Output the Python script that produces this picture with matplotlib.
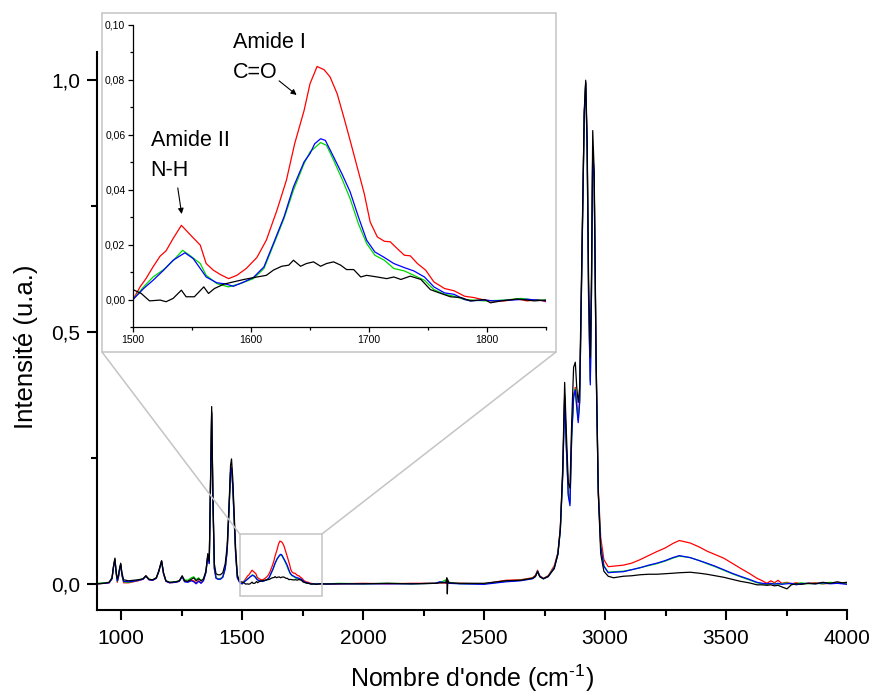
import numpy as np
import matplotlib
matplotlib.use("Agg")
import matplotlib.pyplot as plt
from matplotlib.patches import Rectangle, ConnectionPatch
from matplotlib.ticker import MultipleLocator, FuncFormatter

plt.rcParams["font.family"] = ["Liberation Sans", "DejaVu Sans"]
plt.rcParams["mathtext.fontset"] = "custom"
plt.rcParams["mathtext.rm"] = "Liberation Sans"

# ---- spectra ----
# 900-1490 cm-1 (shared grid)
wn_low = [900, 930, 950, 962, 968, 974, 979, 984, 988, 993, 998, 1003, 1010, 1030,
          1050, 1070, 1090, 1102, 1115, 1130, 1145, 1155, 1167, 1175, 1185, 1200,
          1225, 1240, 1252, 1262, 1275, 1290, 1300, 1310, 1320, 1330, 1340, 1350,
          1358, 1364, 1369, 1374, 1379, 1385, 1392, 1400, 1410, 1420, 1430, 1438,
          1446, 1452, 1456, 1461, 1467, 1473, 1480, 1490]
red_low = [0.000, 0.001, 0.002, 0.010, 0.032, 0.049, 0.022, 0.003, 0.011, 0.027,
           0.039, 0.017, 0.002, 0.002, 0.004, 0.006, 0.009, 0.016, 0.008, 0.007,
           0.011, 0.024, 0.045, 0.020, 0.005, 0.002, 0.003, 0.005, 0.015, 0.005,
           0.004, 0.007, 0.006, 0.002, 0.006, 0.002, 0.007, 0.023, 0.056, 0.041,
           0.191, 0.342, 0.171, 0.031, 0.012, 0.010, 0.010, 0.014, 0.031, 0.066,
           0.151, 0.223, 0.231, 0.196, 0.126, 0.061, 0.013, 0.003]
green_low = [0.001, 0.002, 0.003, 0.011, 0.033, 0.048, 0.023, 0.005, 0.012, 0.028,
             0.038, 0.018, 0.004, 0.003, 0.005, 0.007, 0.010, 0.015, 0.009, 0.008,
             0.012, 0.024, 0.044, 0.020, 0.006, 0.003, 0.004, 0.006, 0.014, 0.008,
             0.007, 0.012, 0.014, 0.008, 0.012, 0.006, 0.009, 0.023, 0.055, 0.041,
             0.190, 0.338, 0.168, 0.031, 0.012, 0.010, 0.010, 0.014, 0.031, 0.066,
             0.150, 0.222, 0.229, 0.194, 0.124, 0.060, 0.013, 0.003]
blue_low = [0.000, 0.001, 0.002, 0.010, 0.032, 0.048, 0.022, 0.006, 0.012, 0.027,
            0.038, 0.018, 0.005, 0.004, 0.005, 0.007, 0.009, 0.015, 0.008, 0.007,
            0.011, 0.024, 0.045, 0.020, 0.005, 0.002, 0.003, 0.005, 0.014, 0.004,
            0.003, 0.006, 0.004, 0.000, 0.005, 0.001, 0.006, 0.022, 0.055, 0.040,
            0.190, 0.340, 0.170, 0.030, 0.011, 0.009, 0.009, 0.013, 0.030, 0.065,
            0.150, 0.222, 0.230, 0.195, 0.125, 0.060, 0.012, 0.002]
black_low = [0.000, 0.001, 0.003, 0.012, 0.035, 0.051, 0.025, 0.010, 0.015, 0.030,
             0.041, 0.022, 0.008, 0.006, 0.007, 0.008, 0.010, 0.016, 0.009, 0.008,
             0.012, 0.025, 0.046, 0.022, 0.006, 0.003, 0.004, 0.006, 0.016, 0.006,
             0.005, 0.009, 0.012, 0.006, 0.010, 0.006, 0.010, 0.025, 0.060, 0.045,
             0.200, 0.352, 0.180, 0.040, 0.020, 0.018, 0.018, 0.022, 0.040, 0.075,
             0.160, 0.235, 0.248, 0.210, 0.140, 0.070, 0.018, 0.004]

# 1500-1850 cm-1 (amide region)
wn_red_ir = [1500, 1506, 1511, 1517, 1523, 1528, 1534, 1541, 1548, 1557, 1562, 1568,
             1574, 1581, 1588, 1596, 1605, 1613, 1622, 1630, 1637, 1645, 1650, 1656,
             1662, 1667, 1673, 1679, 1684, 1690, 1696, 1701, 1707, 1713, 1718, 1724,
             1730, 1735, 1741, 1748, 1755, 1764, 1772, 1781, 1789, 1798, 1806, 1815,
             1826, 1834, 1843, 1850]
red_ir = [0.0000, 0.0046, 0.0076, 0.0119, 0.0158, 0.0177, 0.0222, 0.0270, 0.0238,
          0.0198, 0.0131, 0.0107, 0.0091, 0.0076, 0.0088, 0.0113, 0.0153, 0.0216,
          0.0325, 0.0434, 0.0567, 0.0688, 0.0785, 0.0848, 0.0836, 0.0810, 0.0749,
          0.0658, 0.0579, 0.0482, 0.0385, 0.0282, 0.0228, 0.0212, 0.0210, 0.0185,
          0.0161, 0.0159, 0.0131, 0.0107, 0.0064, 0.0040, 0.0032, 0.0012, 0.0007,
          -0.0002, -0.0006, -0.0005, 0.0002, -0.0005, 0.0000, -0.0008]
wn_green_ir = [1500, 1509, 1517, 1526, 1534, 1542, 1548, 1557, 1562, 1571, 1581, 1591,
               1602, 1611, 1619, 1628, 1636, 1645, 1650, 1659, 1664, 1670, 1677, 1684,
               1691, 1698, 1705, 1713, 1721, 1730, 1738, 1747, 1755, 1764, 1772, 1781,
               1798, 1815, 1829, 1840, 1850]
green_ir = [0.0000, 0.0046, 0.0082, 0.0109, 0.0141, 0.0179, 0.0161, 0.0131, 0.0088,
            0.0058, 0.0046, 0.0058, 0.0076, 0.0113, 0.0198, 0.0295, 0.0398, 0.0495,
            0.0537, 0.0571, 0.0561, 0.0507, 0.0440, 0.0367, 0.0276, 0.0204, 0.0161,
            0.0143, 0.0113, 0.0104, 0.0088, 0.0070, 0.0036, 0.0019, 0.0012, 0.0000,
            -0.0005, -0.0002, 0.0004, -0.0002, -0.0002]
wn_blue_ir = [1500, 1509, 1517, 1526, 1534, 1544, 1551, 1557, 1562, 1571, 1579, 1585,
              1594, 1602, 1611, 1619, 1628, 1636, 1645, 1650, 1654, 1659, 1663, 1670,
              1677, 1684, 1691, 1698, 1705, 1713, 1721, 1730, 1738, 1747, 1755, 1764,
              1772, 1781, 1786, 1798, 1806, 1820, 1834, 1850]
blue_ir = [0.0000, 0.0040, 0.0070, 0.0107, 0.0143, 0.0170, 0.0149, 0.0113, 0.0082,
           0.0061, 0.0056, 0.0048, 0.0064, 0.0080, 0.0119, 0.0204, 0.0301, 0.0410,
           0.0501, 0.0531, 0.0567, 0.0585, 0.0579, 0.0519, 0.0458, 0.0392, 0.0301,
           0.0216, 0.0173, 0.0153, 0.0131, 0.0116, 0.0104, 0.0082, 0.0046, 0.0024,
           0.0019, 0.0000, -0.0005, -0.0002, -0.0005, -0.0002, 0.0001, -0.0005]
wn_black_ir = [1500, 1507, 1514, 1523, 1528, 1534, 1541, 1545, 1552, 1560, 1564, 1569,
               1577, 1585, 1594, 1605, 1613, 1619, 1626, 1632, 1636, 1642, 1647, 1653,
               1659, 1664, 1670, 1676, 1681, 1687, 1693, 1698, 1707, 1715, 1721, 1727,
               1735, 1744, 1752, 1761, 1769, 1778, 1786, 1798, 1803, 1812, 1826, 1840,
               1850]
black_ir = [0.0036, 0.0022, -0.0005, -0.0002, -0.0008, 0.0004, 0.0034, 0.0010, 0.0010,
            0.0046, 0.0022, 0.0040, 0.0056, 0.0064, 0.0073, 0.0082, 0.0088, 0.0107,
            0.0121, 0.0125, 0.0143, 0.0121, 0.0131, 0.0137, 0.0121, 0.0131, 0.0137,
            0.0125, 0.0109, 0.0109, 0.0082, 0.0088, 0.0082, 0.0076, 0.0082, 0.0073,
            0.0085, 0.0073, 0.0036, 0.0022, 0.0010, 0.0007, -0.0005, 0.0000, -0.0012,
            -0.0005, 0.0002, -0.0005, -0.0002]

# 1900-2765 cm-1
wn_flat = [1900, 2000, 2100, 2200, 2300, 2316, 2330, 2343, 2346, 2348, 2350, 2355,
           2400, 2500, 2590, 2650, 2700, 2712, 2721, 2730, 2745, 2765]
red_flat = [0.000, 0.001, 0.000, 0.001, 0.001, 0.002, 0.002, 0.001, 0.002, 0.001, 0.002,
            0.001, 0.001, 0.000, 0.007, 0.008, 0.012, 0.017, 0.027, 0.016, 0.011, 0.016]
green_flat = [0.001, 0.000, 0.001, 0.000, 0.001, 0.003, 0.005, 0.008, 0.002, 0.006, 0.001,
              0.003, 0.000, 0.000, 0.005, 0.007, 0.011, 0.015, 0.025, 0.015, 0.010, 0.015]
blue_flat = [0.000, 0.000, 0.000, 0.000, 0.001, 0.004, 0.003, 0.002, 0.003, 0.002, 0.002,
             0.001, 0.000, -0.001, 0.004, 0.006, 0.010, 0.014, 0.025, 0.015, 0.010, 0.014]
black_flat = [0.000, 0.000, 0.001, 0.000, 0.001, 0.002, 0.002, 0.004, 0.012, -0.020, 0.008,
              0.002, 0.001, 0.001, 0.006, 0.007, 0.011, 0.015, 0.024, 0.014, 0.010, 0.015]

# 2790-2995 cm-1 (C-H stretching)
wn_ch = [2790, 2805, 2815, 2825, 2833, 2840, 2848, 2855, 2862, 2870, 2877, 2883, 2889,
         2895, 2905, 2914, 2920, 2926, 2932, 2939, 2944, 2949, 2955, 2963, 2972, 2982, 2995]
red_ch = [0.036, 0.062, 0.110, 0.220, 0.375, 0.275, 0.180, 0.165, 0.300, 0.375, 0.390,
          0.360, 0.330, 0.365, 0.665, 0.935, 0.995, 0.865, 0.570, 0.405, 0.590, 0.865,
          0.805, 0.440, 0.190, 0.092, 0.048]
green_ch = [0.033, 0.059, 0.106, 0.217, 0.372, 0.272, 0.177, 0.160, 0.292, 0.372, 0.387,
            0.352, 0.325, 0.362, 0.662, 0.932, 0.995, 0.862, 0.562, 0.400, 0.582, 0.862,
            0.802, 0.432, 0.182, 0.077, 0.036]
blue_ch = [0.032, 0.058, 0.105, 0.215, 0.370, 0.270, 0.175, 0.155, 0.290, 0.370, 0.385,
           0.350, 0.320, 0.360, 0.660, 0.930, 0.995, 0.860, 0.560, 0.395, 0.580, 0.860,
           0.800, 0.430, 0.180, 0.075, 0.035]
black_ch = [0.030, 0.060, 0.110, 0.230, 0.400, 0.300, 0.200, 0.190, 0.320, 0.430, 0.440,
            0.390, 0.360, 0.390, 0.680, 0.940, 1.000, 0.880, 0.600, 0.450, 0.620, 0.900,
            0.820, 0.450, 0.180, 0.060, 0.025]

# 3013-4000 cm-1 (O-H / N-H band)
wn_oh = [3013, 3035, 3075, 3110, 3145, 3180, 3214, 3248, 3280, 3307, 3352, 3390, 3421,
         3455, 3490, 3525, 3559, 3595, 3628, 3650, 3669, 3685, 3700, 3715, 3730, 3752,
         3770, 3790, 3810, 3840, 3870, 3900, 3930, 3960, 3980, 4000]
red_oh = [0.034, 0.035, 0.037, 0.041, 0.048, 0.056, 0.064, 0.071, 0.080, 0.086, 0.081,
          0.073, 0.065, 0.058, 0.051, 0.041, 0.031, 0.021, 0.011, 0.006, 0.001, 0.006,
          0.002, 0.007, 0.001, 0.003, 0.000, 0.002, 0.000, 0.001, 0.002, 0.000, 0.001,
          0.002, 0.001, 0.000]
green_oh = [0.023, 0.024, 0.025, 0.028, 0.032, 0.036, 0.040, 0.045, 0.051, 0.055, 0.052,
            0.046, 0.040, 0.034, 0.027, 0.020, 0.014, 0.008, 0.002, 0.000, -0.001, 0.000,
            0.001, -0.001, 0.000, 0.002, -0.001, 0.000, 0.002, 0.000, 0.001, 0.000, 0.003,
            0.001, 0.002, 0.001]
blue_oh = [0.022, 0.023, 0.024, 0.028, 0.032, 0.037, 0.041, 0.046, 0.052, 0.056, 0.052,
           0.046, 0.041, 0.035, 0.028, 0.021, 0.015, 0.009, 0.003, 0.001, 0.000, 0.001,
           -0.001, 0.001, -0.001, 0.000, 0.001, -0.002, 0.000, 0.001, 0.000, 0.002, 0.000,
           0.001, 0.000, -0.001]
black_oh = [0.015, 0.012, 0.015, 0.016, 0.018, 0.019, 0.019, 0.020, 0.021, 0.022, 0.023,
            0.021, 0.019, 0.016, 0.013, 0.009, 0.005, 0.002, -0.002, -0.002, -0.003, -0.002,
            -0.004, -0.003, -0.006, -0.010, -0.002, 0.000, -0.001, 0.001, 0.000, 0.003,
            0.001, 0.004, 0.002, 0.003]

series = [
    ("red", wn_red_ir, red_low, red_ir, red_flat, red_ch, red_oh),
    ("#00d800", wn_green_ir, green_low, green_ir, green_flat, green_ch, green_oh),
    ("#0000ff", wn_blue_ir, blue_low, blue_ir, blue_flat, blue_ch, blue_oh),
    ("black", wn_black_ir, black_low, black_ir, black_flat, black_ch, black_oh),
]


def comma(v, pos, nd=1):
    return f"{v:.{nd}f}".replace(".", ",")


W, H = 873, 695
fig = plt.figure(figsize=(W / 100, H / 100), dpi=100)

# main axes
ax = fig.add_axes([97 / W, (H - 610) / H, 750 / W, 558 / H])
for color, wn_ir, lo, ir, fl, ch, oh in series:
    x = np.concatenate([wn_low, wn_ir, wn_flat, wn_ch, wn_oh])
    y = np.concatenate([lo, ir, fl, ch, oh])
    ax.plot(x, y, color=color, lw=0.9)

ax.set_xlim(900, 4000)
ax.set_ylim(-0.052, 1.056)
for s in ["top", "right"]:
    ax.spines[s].set_visible(False)
for s in ["left", "bottom"]:
    ax.spines[s].set_linewidth(1.5)
ax.xaxis.set_major_locator(MultipleLocator(500))
ax.xaxis.set_minor_locator(MultipleLocator(250))
ax.yaxis.set_major_locator(MultipleLocator(0.5))
ax.yaxis.set_minor_locator(MultipleLocator(0.25))
ax.yaxis.set_major_formatter(FuncFormatter(lambda v, p: comma(v, p, 1)))
ax.tick_params(which="major", direction="out", length=7, width=1.5, labelsize=15, pad=5)
ax.tick_params(which="minor", direction="out", length=4, width=1.5)
ax.tick_params(axis="x", pad=7)
ax.set_xlabel("Nombre d'onde (cm$^{\\text{-1}}$)", fontsize=18)
ax.set_ylabel("Intensité (u.a.)", fontsize=18.5)
ax.xaxis.set_label_coords(0.5, -0.094)
ax.yaxis.set_label_coords(-0.078, 0.471)

# zoom marker on the main plot
gray = "#c4c4c4"
ax.add_patch(Rectangle((1490, -0.024), 340, 0.123, fill=False, ec=gray, lw=1.1, zorder=5))

# inset frame and connectors
fx0, fy0, fx1, fy1 = 102 / W, (H - 352) / H, 556 / W, (H - 13) / H
fig.patches.append(Rectangle((fx0, fy0), fx1 - fx0, fy1 - fy0, transform=fig.transFigure,
                             fill=True, fc="white", ec=gray, lw=1.1, zorder=1))
for fx, dx in [(fx0, 1490), (fx1, 1830)]:
    con = ConnectionPatch(xyA=(fx, fy0), coordsA="figure fraction",
                          xyB=(dx, 0.099), coordsB=ax.transData, color=gray, lw=1.1)
    fig.add_artist(con)

# inset axes
axi = fig.add_axes([133 / W, (H - 327) / H, 413 / W, 302.3 / H], zorder=3)
for color, wn_ir, lo, ir, fl, ch, oh in series:
    axi.plot(wn_ir, ir, color=color, lw=0.9)
axi.set_xlim(1500, 1850)
axi.set_ylim(-0.01, 0.10)
axi.patch.set_visible(False)
for s in ["top", "right"]:
    axi.spines[s].set_visible(False)
for s in ["left", "bottom"]:
    axi.spines[s].set_linewidth(0.9)
axi.xaxis.set_major_locator(MultipleLocator(100))
axi.xaxis.set_minor_locator(MultipleLocator(50))
axi.yaxis.set_major_locator(MultipleLocator(0.02))
axi.yaxis.set_minor_locator(MultipleLocator(0.01))
axi.yaxis.set_major_formatter(FuncFormatter(lambda v, p: comma(v, p, 2)))
axi.tick_params(which="major", direction="out", length=3.5, width=0.9, labelsize=7.5, pad=2)
axi.tick_params(which="minor", direction="out", length=2, width=0.9)

axi.text(1585, 0.0975, "Amide I\nC=O", fontsize=15.5, ha="left", va="top", linespacing=1.6)
axi.text(1515, 0.0618, "Amide II\nN-H", fontsize=15.5, ha="left", va="top", linespacing=1.6)
axi.annotate("", xy=(1640.5, 0.0738), xytext=(1622, 0.0802),
             arrowprops=dict(arrowstyle="-|>", color="black", lw=0.8, mutation_scale=8))
axi.annotate("", xy=(1541.6, 0.0301), xytext=(1537.6, 0.0416),
             arrowprops=dict(arrowstyle="-|>", color="black", lw=0.8, mutation_scale=8))

fig.savefig("out.png", dpi=100)
